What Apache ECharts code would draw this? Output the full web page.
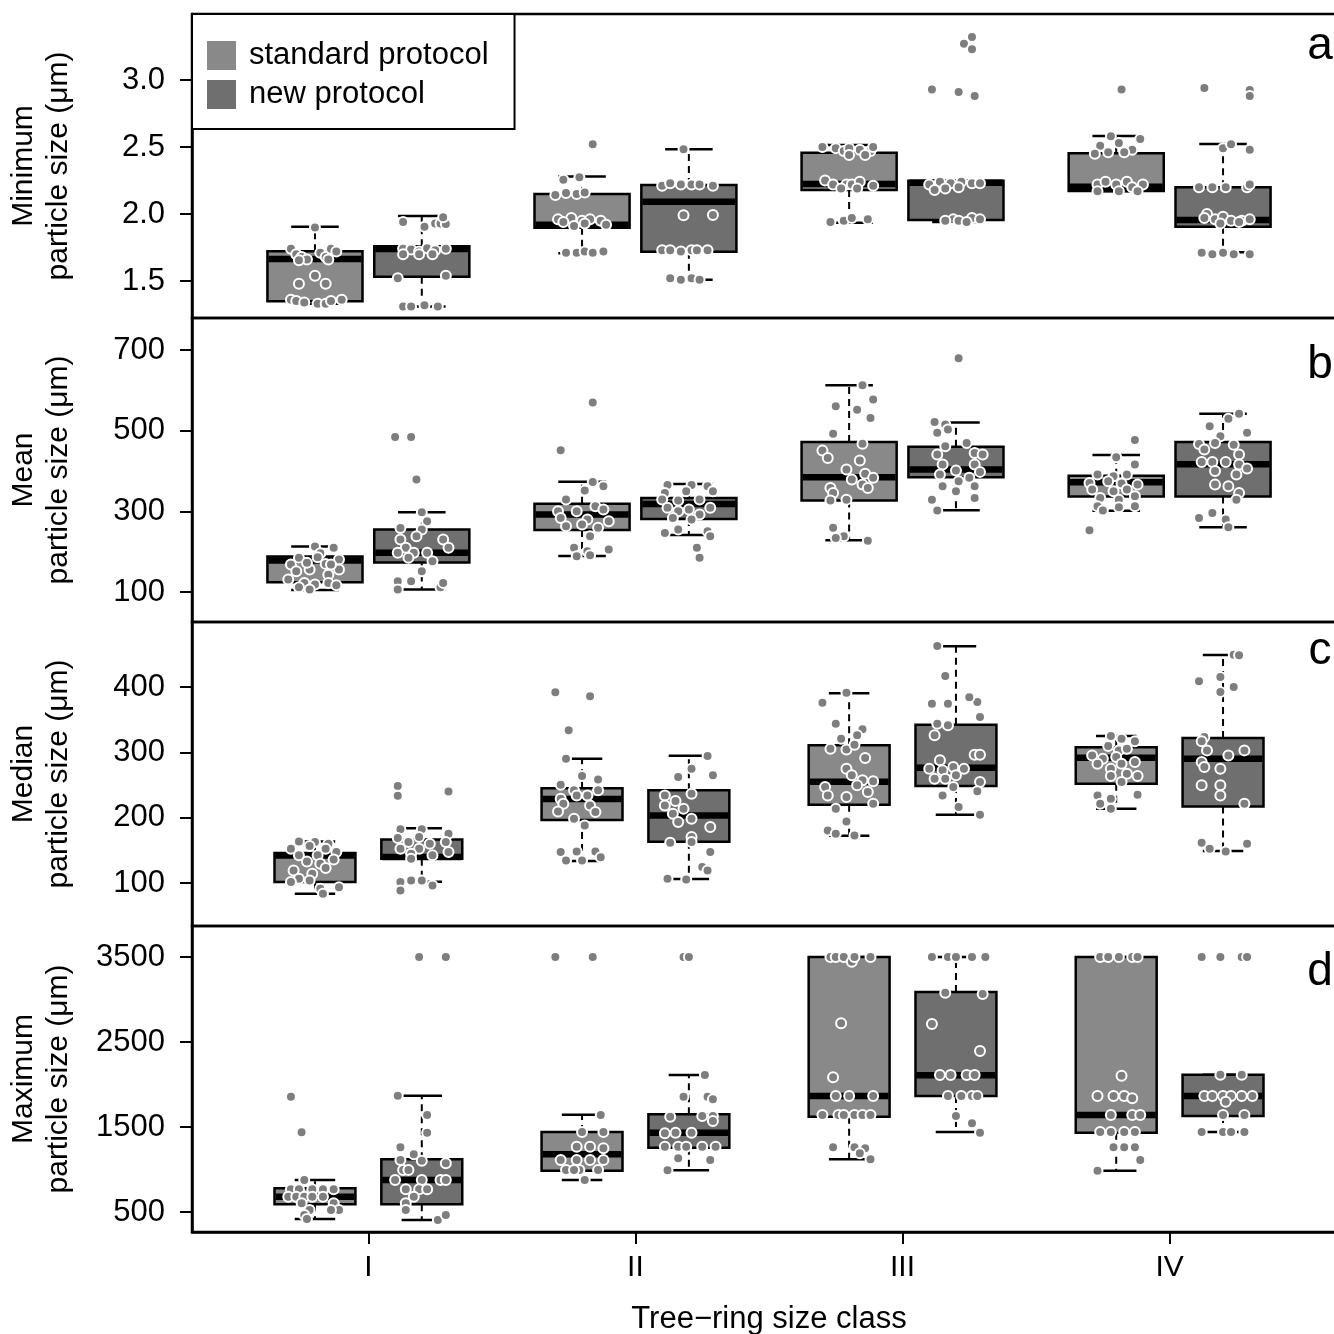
<!DOCTYPE html>
<html><head><meta charset="utf-8">
<script src="https://cdn.jsdelivr.net/npm/echarts@6/dist/echarts.min.js"></script>
<style>html,body{margin:0;padding:0;background:#fff}#c{width:1334px;height:1334px}</style>
</head><body><div id="c"></div>
<script>
// ---------- data ----------
const classes = ['I', 'II', 'III', 'IV'];
const protocols = ['standard protocol', 'new protocol'];
const panelLetters = ['a', 'b', 'c', 'd'];
const yTitles = ['Minimum\nparticle size (μm)', 'Mean\nparticle size (μm)', 'Median\nparticle size (μm)', 'Maximum\nparticle size (μm)'];
const yTicks = [[1.5, 2.0, 2.5, 3.0], [100, 300, 500, 700], [100, 200, 300, 400], [500, 1500, 2500, 3500]];
const yRanges = [[1.224, 3.4925], [25.6, 779.3], [34.2, 499.5], [264.7, 3864.7]];
const xTitle = 'Tree\u2212ring size class';

// box stats per class: [lower whisker, Q1, median, Q3, upper whisker]
const minStd = [[1.33,1.349,1.664,1.722,1.905],[1.707,1.898,1.92,2.149,2.28],[1.935,2.179,2.224,2.458,2.515],[2.17,2.172,2.204,2.453,2.582]];
const minNew = [[1.31,1.532,1.739,1.759,1.985],[1.51,1.719,2.092,2.216,2.483],[1.94,1.955,2.234,2.249,2.249],[1.714,1.905,1.955,2.199,2.522]];
const meanStd = [[105,124.3,178,187.8,212.6],[189.5,253.9,292,319,373.6],[228.3,326.6,384.5,472,612.4],[301.6,336.5,372,388.5,439.8]];
const meanNew = [[106,173,197,254.7,297.8],[241.6,281.2,318.4,333.3,368],[302.6,384.5,403.4,460.4,520],[260.4,336.5,416.6,472,542.2]];
const medStd = [[83.5,101.4,142,146,163.7],[133.5,196.3,228.5,244.9,290.2],[172.3,219.8,255,310.7,390.3],[213.6,252,291.7,307.7,325]];
const medNew = [[101.8,137,140,166.7,184],[106,163,203.5,241.8,294.8],[204.4,248.4,276.4,342.3,462.3],[148.9,217.2,290.2,322,449]];
const maxStd = [[418,590,680,779,876],[876,986,1179,1441,1645],[1120,1621,1865,3500,3500],[986,1433,1641,3500,3500]];
const maxNew = [[406,590,876,1120,1868],[990,1256,1433,1649,2112],[1441,1865,2108,3088,3500],[1441,1629,1865,2115,2115]];

// individual observations per class: [jitter offset (class units), value]
const minStdPts = [
 [[0.00,1.90],[-0.09,1.74],[-0.07,1.70],[-0.05,1.68],[-0.03,1.66],[0.02,1.71],[0.04,1.68],[0.06,1.74],[0.08,1.72],[-0.06,1.655],[0.05,1.66],[-0.06,1.48],[0.00,1.54],[0.04,1.48],[-0.09,1.36],[-0.07,1.35],[-0.04,1.34],[0.01,1.33],[0.04,1.33],[0.06,1.35],[0.10,1.36]],
 [[0.04,2.52],[-0.07,2.256],[-0.01,2.274],[-0.10,2.142],[-0.06,2.157],[-0.02,2.15],[0.01,2.16],[-0.09,1.96],[-0.04,1.97],[0.00,1.95],[0.03,1.96],[0.07,1.95],[-0.03,1.91],[0.09,1.92],[0.01,1.93],[-0.07,1.94],[-0.06,1.71],[-0.02,1.71],[0.01,1.72],[0.04,1.71],[0.08,1.72]],
 [[-0.10,2.50],[-0.05,2.49],[-0.02,2.47],[0.00,2.49],[0.04,2.48],[0.08,2.47],[0.09,2.50],[0.00,2.44],[0.06,2.44],[-0.09,2.25],[-0.06,2.22],[-0.01,2.22],[0.01,2.22],[0.04,2.24],[0.09,2.21],[0.03,2.19],[-0.03,2.19],[-0.07,1.94],[-0.02,1.95],[0.07,1.96],[0.01,1.97]],
 [[0.02,2.93],[-0.06,2.51],[-0.02,2.58],[0.01,2.53],[0.06,2.48],[0.09,2.56],[-0.08,2.45],[-0.03,2.46],[0.03,2.46],[-0.07,2.22],[-0.04,2.24],[0.00,2.22],[0.04,2.24],[0.06,2.20],[0.10,2.22],[-0.07,2.17],[0.01,2.17],[0.08,2.17]]
];
const minNewPts = [
 [[-0.07,1.94],[0.01,1.905],[0.05,1.93],[0.07,1.93],[0.09,1.925],[0.08,1.975],[-0.07,1.74],[-0.04,1.735],[-0.01,1.72],[0.02,1.745],[0.05,1.73],[0.09,1.74],[-0.07,1.70],[-0.01,1.70],[0.04,1.70],[-0.09,1.52],[0.09,1.54],[-0.07,1.31],[-0.04,1.31],[0.01,1.32],[0.06,1.31]],
 [[-0.02,2.483],[-0.10,2.21],[-0.07,2.23],[-0.03,2.22],[0.01,2.22],[0.04,2.22],[0.09,2.21],[-0.02,1.99],[0.09,1.993],[-0.10,1.73],[-0.07,1.73],[-0.03,1.72],[0.01,1.73],[0.03,1.73],[0.07,1.73],[-0.07,1.52],[-0.03,1.51],[0.01,1.52],[0.04,1.51]],
 [[-0.09,2.93],[0.01,2.91],[0.07,2.88],[0.06,3.32],[0.03,3.27],[0.06,3.23],[-0.10,2.22],[-0.06,2.24],[-0.02,2.23],[0.02,2.24],[0.06,2.23],[0.09,2.23],[-0.08,2.18],[-0.04,2.19],[0.01,2.2],[-0.01,1.96],[0.01,1.95],[0.06,1.97],[0.09,1.96],[-0.04,1.95],[0.04,1.94]],
 [[-0.07,2.94],[0.10,2.925],[0.10,2.88],[0.00,2.49],[0.03,2.52],[0.10,2.48],[-0.09,2.20],[-0.04,2.20],[0.01,2.20],[0.09,2.20],[0.10,2.22],[-0.06,2.0],[-0.03,1.96],[0.00,1.98],[0.03,1.95],[0.07,1.95],[0.10,1.96],[-0.07,1.97],[-0.01,1.93],[0.06,1.94],[-0.08,1.71],[-0.04,1.70],[0.00,1.71],[0.04,1.70],[0.10,1.70]]
];
const meanStdPts = [
 [[0.00,212.6],[0.07,209.4],[-0.06,184.6],[0.02,196],[0.09,180.4],[-0.09,168],[0.04,169.7],[-0.02,155.5],[0.09,155.5],[-0.07,151.5],[0.05,143],[-0.10,130.7],[-0.04,122.6],[0.00,118.4],[0.05,122.6],[0.08,116.8],[-0.02,105.9],[-0.06,111.8],[0.01,186.3],[-0.03,172.2],[0.06,168]],
 [[0.04,569.5],[-0.08,451.4],[0.04,372.9],[0.08,362.3],[0.01,351.4],[-0.06,329.1],[0.05,312.8],[-0.09,300.3],[-0.02,300.3],[0.08,304.4],[-0.08,283.7],[0.02,279.6],[0.10,275.5],[-0.06,263.1],[0.00,267.2],[0.06,259],[0.03,238.2],[-0.03,209.4],[0.02,201.2],[0.10,205.3],[-0.02,188.8],[0.03,191.2]],
 [[0.05,612.5],[0.09,577],[-0.05,560.5],[0.03,552],[0.08,531.5],[-0.06,492.6],[0.05,467.8],[-0.10,450.5],[-0.08,432.4],[0.04,425.8],[-0.01,403.5],[0.06,393],[0.01,378.7],[0.09,383],[0.05,366.2],[-0.07,357.8],[0.07,357.8],[-0.06,345.4],[-0.01,329],[-0.07,326.6],[-0.06,259],[-0.02,238.2],[0.07,227.3],[-0.05,234]],
 [[0.07,477],[-0.10,253],[0.00,434],[0.07,415.9],[-0.07,391.2],[-0.01,387],[0.04,391.2],[-0.10,370.5],[-0.03,374.7],[0.02,368.7],[0.08,366.2],[-0.09,354],[-0.01,350],[0.04,354],[-0.06,333.3],[0.01,329],[0.07,337.5],[-0.07,312.8],[0.01,310.3],[0.07,312.8],[-0.05,301.8]]
];
const meanNewPts = [
 [[-0.10,484],[-0.04,484],[-0.02,379],[0.00,297.8],[0.02,275.5],[-0.08,258.9],[0.00,254.8],[-0.08,229.9],[-0.02,238.2],[0.08,229.9],[-0.06,209.4],[-0.09,197],[-0.03,197],[0.02,197],[0.10,209.4],[-0.05,184.6],[0.04,176.3],[-0.09,126.8],[-0.04,126.8],[-0.09,105.9],[0.07,111.8],[0.08,122.6],[0.00,151.5]],
 [[0.03,209.4],[0.04,184.6],[-0.08,365.4],[0.01,365.4],[0.07,362.3],[-0.09,345.7],[-0.01,349.9],[0.09,349.9],[-0.10,329.1],[-0.04,326.6],[0.04,329.1],[-0.08,308.6],[0.00,304.4],[0.08,308.6],[-0.04,300.3],[0.04,292],[-0.06,283.7],[0.01,279.6],[-0.09,246.4],[0.07,250.5],[0.08,238.2],[-0.04,254.8]],
 [[0.01,679.4],[-0.08,521.6],[-0.04,515],[-0.07,494.5],[-0.03,502.6],[0.04,469.5],[-0.04,461.3],[0.07,444.8],[-0.07,440.6],[0.10,440.6],[-0.05,415.9],[0.07,415.9],[0.00,401],[0.09,397.8],[-0.06,391.2],[0.05,383],[0.01,374.7],[-0.05,362.3],[0.07,362.3],[0.00,350],[0.07,333.3],[-0.09,329],[-0.07,301.8]],
 [[0.06,542],[0.02,529.5],[-0.05,511],[0.09,494.5],[-0.01,486],[-0.09,467],[-0.03,469.5],[0.04,465.3],[-0.07,453],[0.06,440.6],[-0.08,422.5],[-0.04,422.5],[0.01,422.5],[0.06,416],[-0.03,400],[0.09,406],[0.05,391.2],[-0.03,366.2],[0.02,362.3],[0.06,345.4],[0.05,329],[-0.04,296],[-0.09,283.7],[0.01,279.6],[0.02,260.4]]
];
const medStdPts = [
 [[-0.06,163.7],[0.00,162.6],[0.05,160],[-0.09,152.4],[-0.02,156.5],[0.04,152.4],[0.08,147.3],[-0.06,142.3],[0.01,142.3],[0.07,136.1],[-0.03,133],[0.02,129.4],[-0.08,119.3],[0.04,122.8],[-0.01,114.1],[-0.06,106.4],[-0.09,101.4],[0.02,91.1],[0.09,93.7],[0.03,83.5],[-0.02,104]],
 [[-0.10,391.8],[0.03,385.7],[-0.05,333.7],[-0.06,290.2],[0.00,263.7],[0.06,258.6],[-0.08,250.4],[-0.03,241.8],[0.06,241.8],[-0.02,234.1],[-0.08,229],[0.02,234.1],[0.03,218.8],[-0.07,221.3],[-0.09,209.6],[0.05,208.6],[-0.03,198.4],[0.01,188.2],[-0.08,147.3],[-0.02,148.4],[0.05,148.4],[0.07,139.6],[-0.06,134.6],[0.00,134.6]],
 [[-0.01,391.2],[-0.10,376],[-0.05,343.9],[0.05,335.2],[-0.03,320.9],[0.03,326],[-0.07,305.5],[-0.01,304.5],[0.02,311.6],[0.06,291.3],[-0.01,274.9],[0.01,264.8],[0.05,257.2],[0.09,255.6],[0.03,249.5],[-0.09,246.9],[0.07,239.2],[-0.08,234.1],[-0.01,231.5],[0.09,221.3],[-0.05,213.7],[-0.01,194.3],[-0.08,180.5],[-0.05,175.3],[0.02,172.8]],
 [[-0.02,325],[0.02,320.9],[0.07,316.8],[-0.03,309.6],[0.01,303],[0.04,305.5],[-0.09,295.2],[-0.05,290.2],[0.00,292.8],[-0.07,282.6],[0.02,282.6],[0.07,285.1],[-0.02,274.9],[0.04,267.2],[-0.02,263.7],[0.08,263.7],[0.02,254.5],[0.08,235],[-0.07,234.1],[-0.02,229],[-0.06,221.3],[-0.02,213.7]]
];
const medNewPts = [
 [[-0.09,248.4],[0.10,240],[-0.09,233.6],[-0.08,182.1],[0.00,182.1],[-0.09,168.8],[-0.01,170.3],[0.10,175.3],[-0.05,162.6],[0.03,160],[0.09,162.6],[-0.08,152.4],[-0.01,152.4],[0.10,147.3],[-0.04,144.7],[0.04,142.3],[-0.04,137.1],[-0.08,101.4],[-0.04,104],[0.04,96.3],[-0.08,88.7],[0.00,104]],
 [[0.07,294.3],[0.01,274.9],[-0.04,262.2],[0.09,264.8],[0.01,236.8],[-0.09,234.1],[-0.05,225.4],[-0.09,218.8],[-0.02,213.7],[-0.06,206],[0.01,198.4],[-0.04,193.3],[0.08,185.6],[0.01,170.3],[-0.07,161.6],[0.01,162.6],[0.08,147.3],[0.05,124.4],[0.07,119.3],[-0.08,106.6],[-0.01,105.5]],
 [[-0.07,462.8],[-0.04,416.8],[-0.09,374.4],[-0.03,374.4],[0.08,377],[0.05,384.4],[0.09,354],[-0.07,343.9],[-0.03,341.3],[-0.08,326],[0.07,296.3],[0.09,296.3],[-0.06,287.8],[-0.10,274.9],[-0.01,277.5],[-0.05,272.4],[0.03,274.9],[0.00,264.8],[-0.04,259.6],[-0.08,259.6],[0.09,254.5],[-0.01,246.9],[-0.05,234.1],[0.08,240.3],[0.01,216.3],[0.09,204.4]],
 [[0.04,449.5],[0.06,448.5],[-0.01,415.3],[-0.09,408.7],[0.04,400],[-0.01,392.3],[-0.07,323.4],[-0.08,316.8],[-0.06,303],[0.08,303],[0.02,295.2],[-0.08,285.1],[-0.01,274.9],[-0.07,277.5],[-0.08,249.5],[-0.01,249.5],[-0.01,234.1],[0.08,221.3],[-0.08,161.6],[-0.05,152.4],[0.01,148.4],[0.09,160]]
];
const maxStdPts = [
 [[-0.09,1856],[-0.05,1438],[-0.04,876],[-0.09,767],[-0.06,767],[-0.01,767],[0.03,767],[0.07,767],[-0.10,680],[-0.07,680],[-0.04,680],[-0.01,680],[0.03,680],[0.07,602],[-0.05,602],[-0.02,523],[0.09,523],[-0.04,465],[-0.03,418],[0.06,523]],
 [[-0.10,3500],[0.04,3500],[0.07,1641],[0.00,1441],[0.08,1441],[-0.02,1268],[0.03,1268],[0.08,1249],[-0.08,1112],[-0.02,1112],[0.03,1112],[0.08,1112],[-0.06,994],[-0.01,994],[0.06,994],[0.01,876],[-0.03,994]],
 [[-0.07,3500],[-0.05,3500],[-0.02,3500],[0.01,3445],[0.08,3500],[0.02,3500],[-0.03,2720],[-0.06,2085],[-0.05,1865],[0.00,1865],[0.09,1865],[-0.10,1641],[-0.04,1641],[-0.02,1641],[0.02,1641],[0.05,1641],[0.08,1641],[-0.06,1261],[0.02,1261],[0.06,1249],[0.04,1190],[0.08,1120]],
 [[-0.06,3500],[-0.03,3500],[0.01,3500],[0.06,3500],[0.08,3500],[0.02,2104],[-0.07,1865],[-0.01,1865],[0.03,1865],[0.06,1838],[-0.02,1641],[0.06,1641],[0.09,1641],[-0.06,1441],[-0.02,1441],[0.03,1441],[0.07,1441],[-0.01,1261],[0.03,1261],[0.07,1261],[0.09,1112],[-0.07,986]]
];
const maxNewPts = [
 [[-0.01,3500],[0.09,3500],[-0.09,1868],[0.02,1641],[0.02,1433],[-0.08,1261],[-0.03,1179],[-0.08,1112],[0.00,1104],[0.09,1073],[-0.07,994],[-0.05,994],[-0.10,876],[0.00,876],[0.07,876],[0.09,876],[-0.06,767],[-0.01,767],[0.02,767],[-0.03,680],[-0.06,602],[-0.06,523],[0.06,406],[0.09,465]],
 [[-0.02,3500],[0.00,3500],[0.06,2112],[-0.02,1856],[0.07,1856],[0.09,1826],[-0.07,1621],[0.05,1629],[0.09,1629],[0.09,1571],[-0.09,1426],[-0.05,1433],[0.01,1433],[-0.09,1268],[-0.04,1268],[-0.01,1268],[0.05,1268],[0.10,1268],[-0.04,1131],[0.08,1112],[-0.08,990]],
 [[-0.09,3500],[-0.03,3500],[0.00,3500],[0.06,3500],[0.11,3500],[-0.04,3080],[0.10,3065],[-0.09,2712],[0.09,2394],[-0.06,2112],[-0.02,2112],[0.04,2112],[0.07,2112],[-0.03,1865],[0.02,1865],[0.06,1865],[0.08,1865],[0.00,1629],[0.06,1544],[0.09,1433]],
 [[-0.08,3500],[-0.01,3500],[0.07,3500],[0.09,3500],[-0.01,2115],[0.07,2115],[-0.07,1865],[-0.04,1865],[0.00,1865],[0.03,1865],[0.07,1865],[0.11,1865],[0.01,1798],[0.00,1641],[0.08,1641],[-0.08,1441],[0.00,1441],[0.03,1441],[0.08,1441]]
];

// ---------- layout / style ----------
const FONT = '"Liberation Sans", Arial, Helvetica, sans-serif';
const tops = [14, 318, 622, 926];
const heights = [304, 304, 304, 306];
const boxW = [0.356, 0.356, 0.303, 0.303];
const OFF = 0.2;
const X_MIN = 0.3396, X_MAX = 4.6604;
const fills = ['#898989', '#6f6f6f'];
const ptColor = '#7e7e7e';
const letterY = [46, 365, 651, 972];

const statSets = [[minStd, minNew], [meanStd, meanNew], [medStd, medNew], [maxStd, maxNew]];
const ptSets = [[minStdPts, minNewPts], [meanStdPts, meanNewPts], [medStdPts, medNewPts], [maxStdPts, maxNewPts]];

function makeBox(width) {
  return function (params, api) {
    const x = api.value(0);
    const lo = api.value(1), q1 = api.value(2), md = api.value(3), q3 = api.value(4), hi = api.value(5);
    const tl = api.coord([x - width / 2, q3]);
    const br = api.coord([x + width / 2, q1]);
    const cxp = api.coord([x, md])[0];
    const yMd = api.coord([x, md])[1];
    const yHi = api.coord([x, hi])[1];
    const yLo = api.coord([x, lo])[1];
    const capL = api.coord([x - width / 4, hi])[0];
    const capR = api.coord([x + width / 4, hi])[0];
    const fill = api.visual('color');
    const dash = { stroke: '#000', lineWidth: 2, lineDash: [7, 5] };
    const solid = { stroke: '#000', lineWidth: 2.5 };
    return {
      type: 'group',
      children: [
        { type: 'line', shape: { x1: cxp, y1: tl[1], x2: cxp, y2: yHi }, style: dash },
        { type: 'line', shape: { x1: cxp, y1: br[1], x2: cxp, y2: yLo }, style: dash },
        { type: 'line', shape: { x1: capL, y1: yHi, x2: capR, y2: yHi }, style: solid },
        { type: 'line', shape: { x1: capL, y1: yLo, x2: capR, y2: yLo }, style: solid },
        { type: 'rect', shape: { x: tl[0], y: tl[1], width: br[0] - tl[0], height: br[1] - tl[1] },
          style: { fill: fill, stroke: '#000', lineWidth: 2.5 } },
        { type: 'line', shape: { x1: tl[0] + 1, y1: yMd, x2: br[0] - 1, y2: yMd }, style: { stroke: '#000', lineWidth: 6.5 } }
      ]
    };
  };
}

const grids = [], xAxes = [], yAxes = [], series = [], graphics = [];
for (let i = 0; i < 4; i++) {
  grids.push({ left: 192, top: tops[i], width: 1154, height: heights[i], show: true,
    outerBoundsMode: 'none', containLabel: false,
    borderColor: '#000', borderWidth: 2.5, backgroundColor: 'transparent' });
  const isBottom = i === 3;
  xAxes.push({
    type: 'value', gridIndex: i, min: X_MIN, max: X_MAX, show: isBottom,
    splitLine: { show: false },
    axisLine: { show: isBottom, onZero: false, lineStyle: { color: '#000', width: 2.5 } },
    axisTick: { show: isBottom, customValues: [1, 2, 3, 4], length: 12, lineStyle: { color: '#000', width: 2 } },
    axisLabel: { show: isBottom, customValues: [1, 2, 3, 4], margin: 21,
      formatter: v => classes[Math.round(v) - 1] || '', fontSize: 30, color: '#000', fontFamily: FONT },
    name: isBottom ? xTitle : '', nameLocation: 'middle', nameGap: 72,
    nameTextStyle: { fontSize: 31, color: '#000', fontFamily: FONT }
  });
  yAxes.push({
    type: 'value', gridIndex: i, min: yRanges[i][0], max: yRanges[i][1],
    splitLine: { show: false },
    axisLine: { show: true, onZero: false, lineStyle: { color: '#000', width: 2.5 } },
    axisTick: { show: true, customValues: yTicks[i], length: 12, lineStyle: { color: '#000', width: 2 } },
    axisLabel: { customValues: yTicks[i], margin: 27, fontSize: 31, color: '#000', fontFamily: FONT,
      formatter: v => (i === 0 ? v.toFixed(1) : String(v)) },
    name: yTitles[i], nameLocation: 'middle', nameGap: 116, nameRotate: 90, nameMoveOverlap: false,
    nameTextStyle: { fontSize: 30, lineHeight: 35, color: '#000', fontFamily: FONT, align: 'center' }
  });
  for (let p = 0; p < 2; p++) {
    const stats = statSets[i][p];
    series.push({
      type: 'custom', name: protocols[p], xAxisIndex: i, yAxisIndex: i,
      itemStyle: { color: fills[p] }, z: 2, silent: true, animation: false,
      renderItem: makeBox(boxW[i]),
      encode: { x: 0, y: [1, 2, 3, 4, 5] },
      data: stats.map((s, k) => [k + 1 + (p === 0 ? -OFF : OFF), s[0], s[1], s[2], s[3], s[4]])
    });
  }
  const pts = [];
  for (let p = 0; p < 2; p++) {
    ptSets[i][p].forEach((arr, k) => {
      arr.forEach(([dx, v]) => pts.push([k + 1 + (p === 0 ? -OFF : OFF) + dx, v]));
    });
  }
  series.push({
    type: 'scatter', name: 'obs' + i, xAxisIndex: i, yAxisIndex: i, z: 3, silent: true, animation: false,
    symbol: 'circle', symbolSize: 10,
    itemStyle: { color: ptColor, borderColor: '#ffffff', borderWidth: 2, opacity: 1 },
    data: pts
  });
  graphics.push({
    type: 'text', x: 1320, y: letterY[i], z: 10,
    style: { text: panelLetters[i], fontSize: 46, fontFamily: FONT, fill: '#000',
      textAlign: 'center', textVerticalAlign: 'middle', align: 'center', verticalAlign: 'middle' }
  });
}

const chart = echarts.init(document.getElementById('c'), null, { renderer: 'canvas' });
chart.setOption({
  animation: false,
  backgroundColor: '#ffffff',
  grid: grids, xAxis: xAxes, yAxis: yAxes, series: series, graphic: graphics,
  legend: {
    data: protocols, left: 192, top: 14, orient: 'vertical', icon: 'rect',
    itemWidth: 29, itemHeight: 29, itemGap: 8, padding: [26, 26, 19, 15],
    borderColor: '#000', borderWidth: 2, backgroundColor: '#fff', selectedMode: false, z: 20,
    textStyle: { fontSize: 31, color: '#000', fontFamily: FONT, padding: [0, 0, 0, 8] }
  }
});
</script></body></html>
